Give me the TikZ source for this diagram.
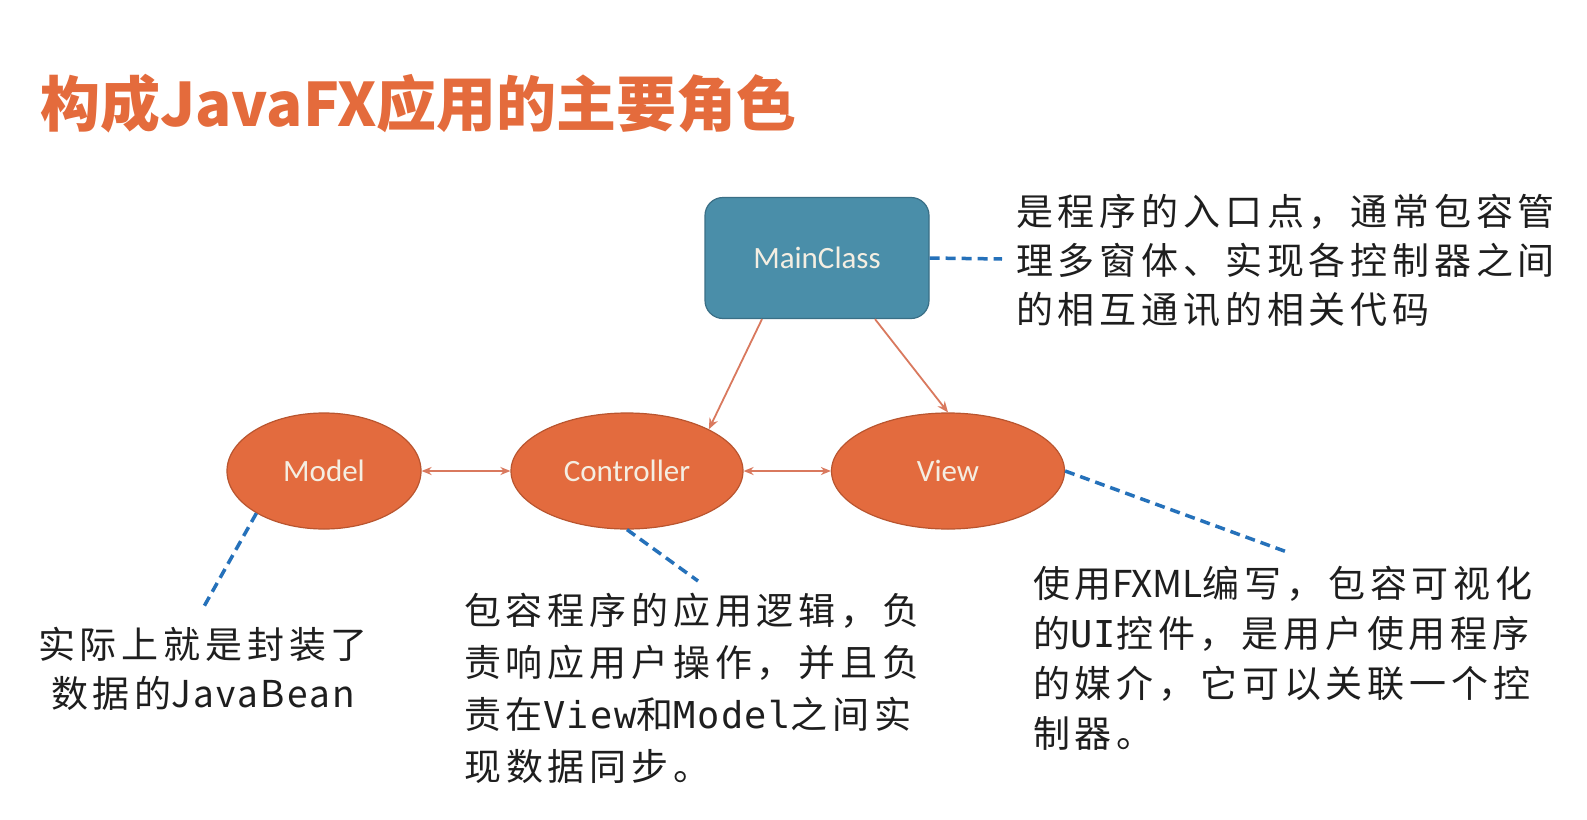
\documentclass[tikz,border=0pt]{standalone}
\usepackage{fontspec}
\usepackage{tikz}
\usetikzlibrary{arrows.meta,positioning,shapes.geometric}
\setsansfont{Carlito}
\newfontfamily\cjk[LetterSpace=13]{Noto Sans CJK SC}
\newfontfamily\cjklatin[LetterSpace=6]{Noto Sans CJK SC}
\newfontfamily\cjkplain{Noto Sans CJK SC}
\newfontfamily\cjkmono[LetterSpace=4]{DejaVu Sans Mono}
\newfontfamily\cjktitle{Noto Sans CJK SC}
\definecolor{ctitle}{HTML}{E46B3C}
\definecolor{crole}{HTML}{E36B3E}
\definecolor{croleline}{HTML}{B9552F}
\definecolor{cmain}{HTML}{4A8EA9}
\definecolor{cmainline}{HTML}{3A6F86}
\definecolor{clink}{HTML}{D9795E}
\definecolor{cnote}{HTML}{2571BA}
\definecolor{clabel}{HTML}{F4EEE2}
\definecolor{ctext}{HTML}{1E1E1E}
\tikzset{
  title/.style={inner sep=0pt, text=ctitle, font=\cjktitle\bfseries\fontsize{60}{60}\selectfont},
  role/.style={ellipse, draw=croleline, fill=crole, line width=1.2pt, inner sep=0pt, minimum height=116pt, text=clabel, font=\sffamily\fontsize{31}{31}\selectfont},
  mainbox/.style={rectangle, rounded corners=18pt, draw=cmainline, fill=cmain, line width=1.2pt, minimum width=224pt, minimum height=121pt, text=clabel, font=\sffamily\fontsize{31}{31}\selectfont},
  desc/.style={inner sep=0pt, text=ctext, font=\cjk\fontsize{37}{49}\selectfont},
  link/.style={draw=clink, line width=1.8pt, {Stealth[length=10pt,width=8pt]}-{Stealth[length=10pt,width=8pt]}},
  flow/.style={draw=clink, line width=1.8pt, -{Stealth[length=11pt,width=9pt]}},
  note/.style={draw=cnote, line width=3.5pt, dash pattern=on 10pt off 6pt},
}

\begin{document}
\begin{tikzpicture}[x=1pt,y=-1pt]
\useasboundingbox[fill=white] (0,0) rectangle (1587,819);
\node[title, anchor=west] (title) at (40,104) {构成JavaFX应用的主要角色};

% roles
\node[mainbox] (main) at (817,258) {MainClass};
\node[role, minimum width=194pt] (model) at (324,471) {Model};
\node[role, minimum width=232pt] (ctrl) at (627,471) {Controller};
\node[role, minimum width=233pt] (view) at (948,471) {View};

\draw[link] (model) -- (ctrl);
\draw[link] (ctrl) -- (view);
\draw[flow] ([xshift=-55pt]main.south) -- (ctrl.27);
\draw[flow] ([xshift=58pt]main.south) -- (view.north);

% notes
\coordinate (mainend) at (1002,259);
\coordinate (modelend) at (202,610);
\coordinate (ctrlend) at (698,581);
\coordinate (viewend) at (1287,552);
\draw[note] (main.east) -- (mainend);
\draw[note] (model.212) -- (modelend);
\draw[note] (ctrl.south) -- (ctrlend);
\draw[note] (view.east) -- (viewend);

\node[desc, anchor=north west, align=left] (maintext) at (1016,194)
  {是程序的入口点，通常包容管\\理多窗体、实现各控制器之间\\的相互通讯的相关代码};
\node[desc, anchor=north, align=center] (modeltext) at (203,627)
  {实际上就是封装了\\数据的{\cjklatin JavaBean}};
\node[desc, anchor=north west, align=left, font=\cjk\fontsize{37}{52}\selectfont] (ctrltext) at (464,593)
  {包容程序的应用逻辑，负\\责响应用户操作，并且负\\责在{\cjkmono View}和{\cjkmono Model}之间实\\现数据同步。};
\node[desc, anchor=north west, align=left, font=\cjk\fontsize{37}{50}\selectfont] (viewtext) at (1033,566)
  {使用{\cjkplain FXML}编写，包容可视化\\的{\cjkmono UI}控件，是用户使用程序\\的媒介，它可以关联一个控\\制器。};
\end{tikzpicture}
\end{document}
